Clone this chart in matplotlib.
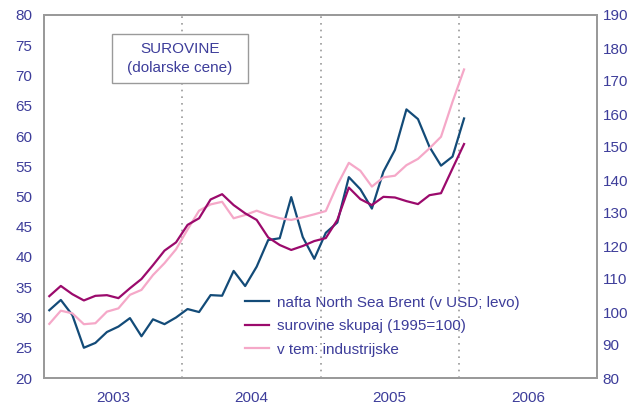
import matplotlib
matplotlib.use("Agg")
import matplotlib.pyplot as plt
from matplotlib.patches import Rectangle
import numpy as np

plt.rcParams['font.family'] = ['Liberation Sans', 'DejaVu Sans']

# Monthly data, Jan 2003 - Jan 2006
oil = [31.2, 32.9, 30.4, 25.0, 25.8, 27.6, 28.5, 29.9, 26.9, 29.7, 28.9, 30.0,
       31.4, 30.9, 33.7, 33.6, 37.7, 35.2, 38.4, 42.8, 43.1, 49.9, 43.3, 39.7,
       44.0, 45.7, 53.2, 51.2, 48.0, 54.1, 57.7, 64.4, 62.8, 58.2, 55.1, 56.6,
       62.9]
total = [104.8, 107.9, 105.4, 103.5, 104.9, 105.1, 104.2, 107.2, 110.0, 114.2, 118.6, 121.1,
         126.4, 128.4, 134.1, 135.7, 132.4, 129.9, 127.9, 122.6, 120.3, 118.8, 120.0, 121.5,
         122.4, 127.9, 137.7, 134.2, 132.4, 134.9, 134.7, 133.6, 132.7, 135.4, 136.0, 143.5,
         150.9]
industrial = [96.4, 100.4, 99.6, 96.3, 96.6, 100.1, 101.1, 105.2, 106.7, 111.2, 114.8, 119.0,
              125.0, 130.7, 132.6, 133.4, 128.4, 129.4, 130.7, 129.4, 128.4, 127.9, 128.7, 129.6,
              130.6, 138.5, 145.2, 142.8, 138.0, 140.8, 141.3, 144.5, 146.4, 149.6, 153.1, 163.7,
              173.5]
years = ['2003', '2004', '2005', '2006']
labels = ['nafta North Sea Brent (v USD; levo)', 'surovine skupaj (1995=100)', 'v tem: industrijske']

txt = '#3d3d9a'
c_oil = '#134b78'
c_tot = '#9b0a6c'
c_ind = '#f5a8c8'
grey = '#9a9a9a'
FS = 11

W, H = 640, 407
fig = plt.figure(figsize=(6.4, 4.07), dpi=100)
ax = fig.add_axes([44/W, 1-378/H, (597-44)/W, (378-15)/H])
ax2 = ax.twinx()

x = np.arange(len(oil)) + 0.46

l1, = ax.plot(x, oil, color=c_oil, lw=1.6, zorder=3)
l3, = ax2.plot(x, industrial, color=c_ind, lw=1.6, zorder=2)
l2, = ax2.plot(x, total, color=c_tot, lw=1.6, zorder=3)

ax.set_xlim(0, 48)
ax.set_ylim(20, 80)
ax2.set_ylim(80, 190)
ax.set_yticks(np.arange(20, 81, 5))
ax2.set_yticks(np.arange(80, 191, 10))
ax.set_xticks([6, 18, 30, 42])
ax.set_xticklabels(years)

for b in [12, 24, 36]:
    ax.axvline(b, color=grey, lw=1.2, ls=(0, (1, 3)), zorder=1)

for a in (ax, ax2):
    for s in a.spines.values():
        s.set_color(grey)
        s.set_linewidth(1.3)
    a.tick_params(length=0, labelsize=FS, labelcolor=txt)
ax.tick_params(axis='y', pad=8.5)
ax.tick_params(axis='x', pad=9)
ax2.tick_params(axis='y', pad=4)

# title box
fig.add_artist(Rectangle((112/W, 1-83/H), (248-112)/W, (83-34)/H,
                         transform=fig.transFigure, fc='white', ec=grey, lw=1.0, zorder=5))
fig.text(180/W, 1-58.5/H, 'SUROVINE\n(dolarske cene)', ha='center', va='center',
         fontsize=FS, color=txt, linespacing=1.5, zorder=6)

leg = ax2.legend([l1, l2, l3], labels, loc='upper left',
                 bbox_to_anchor=(237/W, 1-288/H), bbox_transform=fig.transFigure,
                 frameon=False, fontsize=FS, handlelength=1.6, handletextpad=0.5,
                 labelspacing=0.62, borderpad=0)
for t in leg.get_texts():
    t.set_color(txt)

fig.savefig('out.png', dpi=100)
